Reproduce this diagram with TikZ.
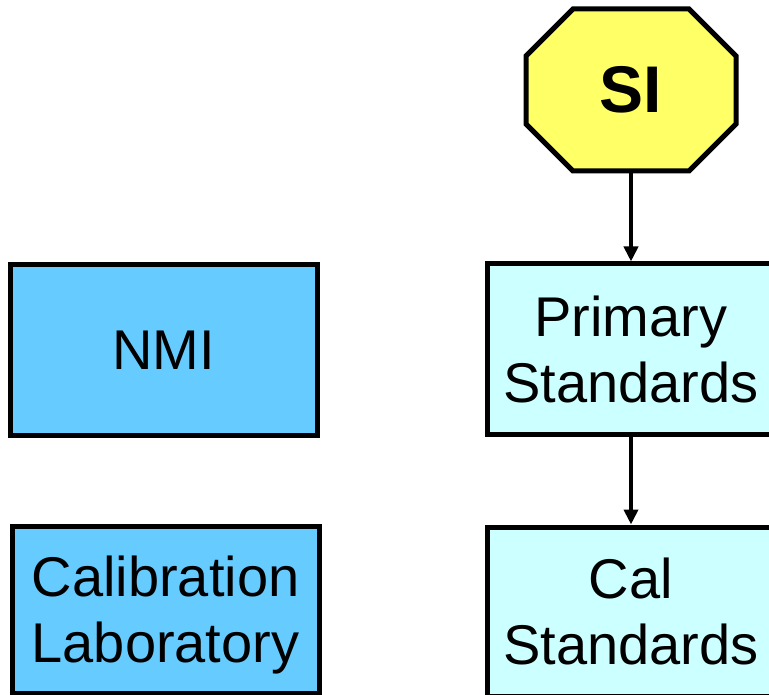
\documentclass[tikz,border=0pt]{standalone}
\usepackage{fontspec}
\setmainfont{Liberation Sans}
\usetikzlibrary{arrows.meta}
\definecolor{nmiblue}{HTML}{66CCFF}
\definecolor{stdcyan}{HTML}{CCFFFF}
\definecolor{siyellow}{HTML}{FFFF66}
\begin{document}
\begin{tikzpicture}[x=1pt,y=-1pt,
  boxbase/.style={draw=black, line width=5pt, rectangle, align=center, inner sep=0pt,
    font=\fontsize{56}{66}\selectfont},
  orgbox/.style={boxbase, fill=nmiblue, minimum width=307pt},
  stdbox/.style={boxbase, fill=stdcyan, minimum width=288pt},
  conn/.style={line width=4pt, -{Triangle[width=14pt,length=15pt]}}]
\useasboundingbox (0,0) rectangle (769,695);
\clip (0,0) rectangle (769,695);
\fill[white] (0,0) rectangle (769,695);
% octagon
\filldraw[fill=siyellow, draw=black, line width=5pt, line join=miter]
  (573,9) -- (689,9) -- (736,56) -- (736,124) -- (689,171) -- (573,171) -- (526,124) -- (526,56) -- cycle;
\node[inner sep=0pt, minimum width=210pt, minimum height=162pt, font=\fontsize{66}{70}\selectfont\bfseries] (SI) at (631,90) {SI};
% boxes
\node[orgbox, minimum height=170pt] (nmi) at (163.5,350) {NMI};
\node[orgbox, minimum height=167pt] (lab) at (165.5,609.5) {\raisebox{-7pt}[\height][\depth]{\begin{tabular}{@{}c@{}}Calibration\\Laboratory\end{tabular}}};
\node[stdbox, minimum height=170pt] (prim) at (631,349) {Primary\\Standards};
\node[stdbox, minimum height=169pt] (cal) at (631,611.5) {Cal\\Standards};
% connectors
\draw[conn] (SI.south) -- (prim.north);
\draw[conn] (prim.south) -- (cal.north);
\end{tikzpicture}
\end{document}
